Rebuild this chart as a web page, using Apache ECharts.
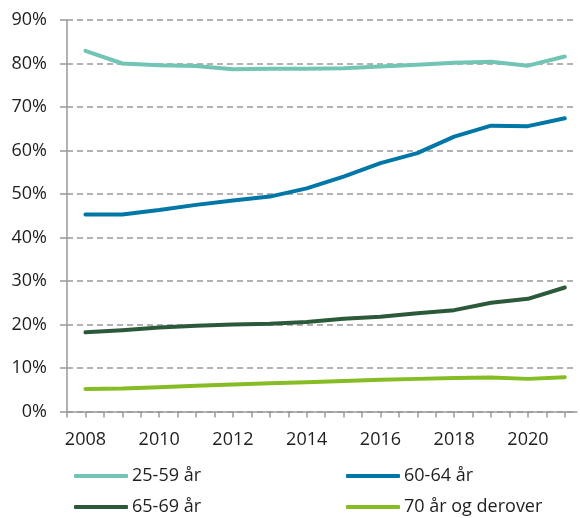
<!DOCTYPE html>
<html>
<head>
<meta charset="utf-8">
<script src="https://cdn.jsdelivr.net/npm/echarts@6/dist/echarts.min.js"></script>
<style>
html, body { margin: 0; padding: 0; background: #fff; }
#main { width: 580px; height: 518px; }
</style>
</head>
<body>
<div id="main"></div>
<script>
// år
var years = [2008, 2009, 2010, 2011, 2012, 2013, 2014, 2015, 2016, 2017, 2018, 2019, 2020, 2021];
var yearLabels = [2008, 2010, 2012, 2014, 2016, 2018, 2020];

// andel sysselsatte, prosent
var age25to59 = [82.9, 80.0, 79.6, 79.4, 78.7, 78.8, 78.8, 78.9, 79.3, 79.7, 80.2, 80.4, 79.5, 81.6];
var age60to64 = [45.3, 45.3, 46.3, 47.5, 48.5, 49.4, 51.3, 54.0, 57.1, 59.4, 63.2, 65.7, 65.6, 67.4];
var age65to69 = [18.2, 18.7, 19.3, 19.7, 20.0, 20.2, 20.6, 21.3, 21.8, 22.6, 23.3, 25.0, 25.9, 28.5];
var age70plus = [5.2, 5.3, 5.6, 5.9, 6.2, 6.5, 6.7, 7.0, 7.3, 7.5, 7.7, 7.8, 7.5, 7.9];

var seriesNames = ['25-59 år', '60-64 år', '65-69 år', '70 år og derover'];
var colors = ['#72c5b5', '#0077a6', '#2b5a3a', '#86bd24'];

function pairs(vals) {
    return years.map(function (y, i) { return [y, vals[i]]; });
}

// ticks at each year and halfway between
var xTicks = [];
years.forEach(function (y) { xTicks.push(y - 0.5); xTicks.push(y); });

var font = 'Open Sans';
var textColor = '#1e1e1e';
var axisGrey = '#999999';

function line(name, vals, color) {
    return {
        name: name,
        type: 'line',
        data: pairs(vals),
        symbol: 'none',
        color: color,
        lineStyle: { width: 4, color: color, cap: 'round', join: 'round' }
    };
}

// one legend per item: two columns, two rows
function legendItem(name, left, top) {
    return {
        left: left, top: top,
        padding: 0,
        icon: 'roundRect',
        itemWidth: 54, itemHeight: 4,
        data: [name],
        textStyle: { fontFamily: font, fontSize: 18, color: textColor, padding: [0, 0, 0, -1] }
    };
}

var chart = echarts.init(document.getElementById('main'));
chart.setOption({
    animation: false,
    color: colors,
    grid: { left: 67, right: 3, top: 20, bottom: 106.5 },
    legend: [
        legendItem(seriesNames[0], 74, 467),
        legendItem(seriesNames[1], 346, 467),
        legendItem(seriesNames[2], 74, 498),
        legendItem(seriesNames[3], 346, 498)
    ],
    xAxis: {
        type: 'value',
        min: 2007.5,
        max: 2021.33,
        axisLine: { show: true, lineStyle: { color: axisGrey, width: 1.5 } },
        axisTick: { show: true, length: 6, customValues: xTicks, lineStyle: { color: axisGrey, width: 1.5 } },
        axisLabel: {
            customValues: yearLabels,
            margin: 19,
            fontFamily: font, fontSize: 18, color: textColor,
            formatter: function (v) { return String(v); }
        },
        splitLine: { show: false }
    },
    yAxis: {
        type: 'value',
        min: 0, max: 90, interval: 10,
        axisLine: { show: true, lineStyle: { color: axisGrey, width: 1.5 } },
        axisTick: { show: true, length: 7, lineStyle: { color: axisGrey, width: 1.5 } },
        axisLabel: {
            margin: 20,
            fontFamily: font, fontSize: 18, color: textColor,
            formatter: '{value}%'
        },
        splitLine: { show: true, lineStyle: { color: axisGrey, width: 1.5, type: [6, 4] } }
    },
    series: [
        line(seriesNames[0], age25to59, colors[0]),
        line(seriesNames[1], age60to64, colors[1]),
        line(seriesNames[2], age65to69, colors[2]),
        line(seriesNames[3], age70plus, colors[3])
    ]
});
</script>
</body>
</html>
